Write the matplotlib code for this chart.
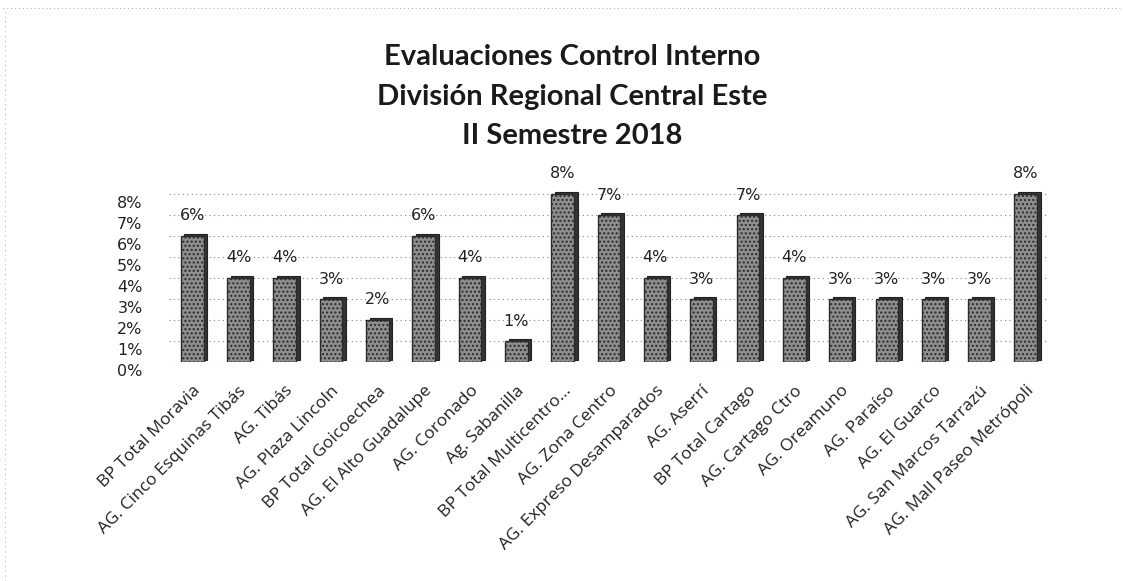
import matplotlib
matplotlib.use("Agg")
import matplotlib.pyplot as plt
import matplotlib.transforms as mtransforms
from matplotlib.lines import Line2D
from matplotlib.ticker import FuncFormatter, MultipleLocator

categories = [
    "BP Total Moravia", "AG. Cinco Esquinas Tibás", "AG. Tibás", "AG. Plaza Lincoln",
    "BP Total Goicoechea", "AG. El Alto Guadalupe", "AG. Coronado", "Ag. Sabanilla",
    "BP Total Multicentro...", "AG. Zona Centro", "AG. Expreso Desamparados", "AG. Aserrí",
    "BP Total Cartago", "AG. Cartago Ctro", "AG. Oreamuno", "AG. Paraíso",
    "AG. El Guarco", "AG. San Marcos Tarrazú", "AG. Mall Paseo Metrópoli",
]
values = [6, 4, 4, 3, 2, 6, 4, 1, 8, 7, 4, 3, 7, 4, 3, 3, 3, 3, 8]
title_lines = ["Evaluaciones Control Interno", "División Regional Central Este", "II Semestre 2018"]

W, H = 1123, 581
fig = plt.figure(figsize=(W / 100, H / 100), dpi=100)
ax = fig.add_axes([169 / W, 1 - 362 / H, 880 / W, 178.5 / H])

x = list(range(len(categories)))
# 3D depth (side/shadow) drawn from the same data, shifted slightly
shift = mtransforms.offset_copy(ax.transData, fig=fig, x=3.5, y=2.5, units="dots")
ax.bar(x, values, width=0.49, color="#333333", edgecolor="#222222", linewidth=0.8,
       transform=shift, zorder=2)
ax.bar(x, values, width=0.49, color="#8e8e8e", edgecolor="#2a2a2a",
       linewidth=1.0, hatch="....", zorder=3)

for xi, v in zip(x, values):
    ax.annotate(f"{v}%", (xi, v), xytext=(0, 9), textcoords="offset points",
                ha="center", va="bottom", fontsize=11.5, family="DejaVu Sans",
                color="#222222")

ax.set_xlim(-0.5, len(categories) - 0.5)
ax.set_ylim(0, 8.5)
ax.yaxis.set_major_locator(MultipleLocator(1))
ax.yaxis.set_major_formatter(FuncFormatter(lambda v, p: f"{int(v)}%"))
ax.grid(axis="y", linestyle=(0, (1, 3)), color="#888888", linewidth=0.8, zorder=0)
for s in ax.spines.values():
    s.set_visible(False)
ax.tick_params(axis="y", length=0, pad=19, labelsize=11.5, labelcolor="#222222")
ydown = mtransforms.ScaledTranslation(0, -8 / 100, fig.dpi_scale_trans)
for lab in ax.get_yticklabels():
    lab.set_family("DejaVu Sans")
    lab.set_transform(lab.get_transform() + ydown)
ax.set_xticks(x)
ax.set_xticklabels(categories, rotation=45, ha="right", rotation_mode="anchor",
                   fontsize=12.5, family="Open Sans", color="#222222")
ax.tick_params(axis="x", length=0, pad=15)

baselines = [65, 105, 144]
for t, yy in zip(title_lines, baselines):
    fig.text(572 / W, 1 - yy / H, t, ha="center", va="baseline", fontsize=21,
             fontweight="bold", family="Lato", color="#1a1a1a")

# faint dotted frame of the scanned chart
fig.add_artist(Line2D([0.003, 0.997], [1 - 8 / H, 1 - 8 / H], transform=fig.transFigure,
                      linestyle=(0, (1, 3)), color="#aaaaaa", linewidth=0.7))
fig.add_artist(Line2D([5 / W, 5 / W], [0.0, 1 - 8 / H], transform=fig.transFigure,
                      linestyle=(0, (1, 4)), color="#aaaaaa", linewidth=0.7))

fig.savefig("out.png", dpi=100)
